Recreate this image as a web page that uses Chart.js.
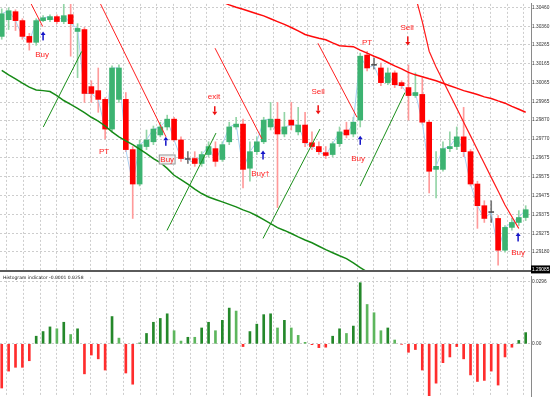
<!DOCTYPE html>
<html>
<head>
<meta charset="utf-8">
<script src="https://cdn.jsdelivr.net/npm/chart.js@4.4.0/dist/chart.umd.min.js"></script>
<style>
  html, body { margin: 0; padding: 0; background: #fff; }
  #wrap { position: relative; width: 550px; height: 400px; overflow: hidden; }
  #top { position: absolute; left: 0; top: 0; width: 550px; height: 274px; }
  #bot { position: absolute; left: 0; top: 273px; width: 550px; height: 127px; }
</style>
</head>
<body>
<div id="wrap">
  <div id="top"><canvas id="priceChart"></canvas></div>
  <div id="bot"><canvas id="histChart"></canvas></div>
</div>
<script>
// price panel, one entry per bar
const openP = [1.30310,1.30398,1.30440,1.30393,1.30310,1.30279,1.30393,1.30398,1.30414,1.30388,
  1.30424,1.30336,1.30346,1.30046,1.30025,1.29979,1.29823,1.29979,1.29979,1.29715,
  1.29534,1.29731,1.29756,1.29792,1.29834,1.29875,1.29766,1.29668,1.29668,1.29642,
  1.29689,1.29720,1.29663,1.29756,1.29834,1.29849,1.29617,1.29704,1.29756,1.29834,
  1.29875,1.29797,1.29870,1.29808,1.29844,1.29751,1.29731,1.29699,1.29689,1.29746,
  1.29818,1.29797,1.29870,1.30212,1.30160,1.30144,1.30067,1.30118,1.30067,1.30041,
  1.29999,1.30005,1.29859,1.29611,1.29611,1.29720,1.29731,1.29782,1.29704,1.29534,
  1.29420,1.29384,1.29353,1.29186,1.29306,1.29332,1.29358];
const closeP = [1.30429,1.30445,1.30393,1.30310,1.30279,1.30393,1.30408,1.30414,1.30388,1.30419,
  1.30377,1.30352,1.30010,1.30010,1.29979,1.29823,1.30144,1.30144,1.29715,1.29534,
  1.29741,1.29766,1.29823,1.29834,1.29875,1.29766,1.29668,1.29663,1.29642,1.29689,
  1.29731,1.29653,1.29741,1.29834,1.29849,1.29611,1.29704,1.29756,1.29870,1.29875,
  1.29797,1.29834,1.29844,1.29844,1.29751,1.29731,1.29704,1.29684,1.29746,1.29808,
  1.29792,1.29859,1.30206,1.30144,1.30158,1.30067,1.30118,1.30056,1.30051,1.29999,
  1.30015,1.29859,1.29601,1.29627,1.29720,1.29731,1.29782,1.29704,1.29534,1.29420,
  1.29353,1.29384,1.29186,1.29306,1.29332,1.29358,1.29399];
const highP = [1.30455,1.30460,1.30450,1.30403,1.30326,1.30403,1.30419,1.30424,1.30424,1.30490,
  1.30490,1.30377,1.30357,1.30077,1.30144,1.29989,1.30155,1.30160,1.30015,1.29731,
  1.29766,1.29818,1.29839,1.29859,1.29896,1.29885,1.29782,1.29704,1.29704,1.29704,
  1.29756,1.29756,1.29756,1.29859,1.29885,1.29875,1.29756,1.29782,1.29885,1.29963,
  1.29963,1.29911,1.29963,1.29937,1.29911,1.29808,1.29756,1.29731,1.29756,1.29834,
  1.29859,1.29885,1.30222,1.30232,1.30196,1.30170,1.30144,1.30129,1.30077,1.30160,
  1.30118,1.30093,1.29870,1.29704,1.29756,1.29808,1.29834,1.29937,1.29715,1.29549,
  1.29446,1.29446,1.29368,1.29316,1.29353,1.29394,1.29420];
const lowP = [1.30295,1.30346,1.30341,1.30295,1.30238,1.30263,1.30388,1.30388,1.30377,1.30377,
  1.30206,1.30093,1.29963,1.29963,1.29911,1.29771,1.29808,1.29963,1.29704,1.29353,
  1.29524,1.29715,1.29741,1.29782,1.29818,1.29756,1.29653,1.29642,1.29627,1.29627,
  1.29678,1.29627,1.29653,1.29741,1.29823,1.29513,1.29549,1.29689,1.29746,1.29818,
  1.29410,1.29782,1.29818,1.29792,1.29731,1.29715,1.29689,1.29668,1.29678,1.29731,
  1.29777,1.29782,1.29834,1.30129,1.30139,1.30051,1.30056,1.30041,1.30036,1.29870,
  1.29989,1.29849,1.29487,1.29461,1.29601,1.29704,1.29715,1.29678,1.29524,1.29301,
  1.29332,1.29332,1.29108,1.29176,1.29291,1.29316,1.29342];

// moving averages (upper red starts at bar 32, lower green ends at bar 53)
const maUpperStart = 32;
const maUpper = [1.30491,1.30476,1.30463,1.30453,1.30441,1.30429,1.30418,1.30403,1.30388,1.30373,
  1.30357,1.30339,1.30320,1.30310,1.30300,1.30292,1.30276,1.30261,1.30258,1.30256,
  1.30238,1.30222,1.30206,1.30191,1.30173,1.30155,1.30139,1.30121,1.30108,1.30098,
  1.30087,1.30077,1.30064,1.30051,1.30038,1.30025,1.30015,1.30005,1.29992,1.29984,
  1.29971,1.29959,1.29942,1.29927,1.29911];
const maLower = [1.30131,1.30108,1.30087,1.30064,1.30043,1.30028,1.30025,1.30020,1.29999,1.29973,
  1.29953,1.29932,1.29909,1.29885,1.29865,1.29839,1.29808,1.29782,1.29761,1.29741,
  1.29717,1.29694,1.29668,1.29647,1.29616,1.29580,1.29557,1.29533,1.29507,1.29484,
  1.29466,1.29453,1.29440,1.29427,1.29414,1.29398,1.29385,1.29367,1.29347,1.29326,
  1.29305,1.29290,1.29274,1.29256,1.29240,1.29225,1.29207,1.29189,1.29173,1.29157,
  1.29142,1.29119,1.29095,1.29072];
const bandStart = 60;
const bandLine = [1.30522,1.30388,1.30232,1.30149,1.30077,1.30005,1.29932,1.29859,1.29787,1.29714,
  1.29642,1.29569,1.29497,1.29424,1.29362,1.29300];

// trend lines: [bar1, price1, bar2, price2]
const redTrends = [[3.9,1.30507,5.95,1.30362],[13.97,1.30507,23.83,1.29782],[30.94,1.30248,37.75,1.29771],[45.87,1.30274,51.53,1.29885]];
const greenTrends = [[6.03,1.29834,11.6,1.30231],[23.97,1.29290,31.08,1.29802],[37.9,1.29248,46.16,1.29823],[51.97,1.29523,58.49,1.30015]];

// signals
const buyArrowBar = [6.0, 23.8, 37.9, 52.0, 74.9];
const buyArrowPrice = [1.30310, 1.29756, 1.29684, 1.29761, 1.29253];
const sellArrowBar = [30.9, 45.9, 58.9];
const sellArrowPrice = [1.29922, 1.29927, 1.30289];
const labelText = ['Buy', 'PT', 'Buy', 'exit', 'Buy\u2020', 'Sell', 'PT', 'Sell', 'Buy', 'Buy'];
const labelBar = [5.85, 14.85, 24.0, 30.8, 37.5, 45.9, 53.0, 58.8, 51.7, 74.9];
const labelPrice = [1.30212, 1.29704, 1.29663, 1.29994, 1.29590, 1.30020, 1.30274, 1.30357, 1.29668, 1.29170];

const priceTicks = [1.30460,1.30360,1.30265,1.30165,1.30065,1.29965,1.29870,1.29770,1.29675,1.29575,1.29475,1.29375,1.29275,1.29180];
const lastPriceTag = 1.29085;

// histogram panel
const histVals = [-0.0209,-0.0129,-0.0111,-0.0111,-0.0080,0.0036,0.0058,0.0080,0.0071,0.0102,
  0.0044,0.0071,-0.0142,-0.0053,-0.0071,-0.0124,0.0129,0.0027,-0.0138,-0.0191,
  0.0004,0.0049,0.0102,0.0120,0.0142,0.0062,0.0013,0.0031,0.0031,0.0075,
  0.0102,0.0062,0.0111,0.0169,0.0155,-0.0013,0.0058,0.0093,0.0138,0.0142,
  0.0075,0.0111,0.0075,0.0040,0.0007,-0.0004,-0.0018,-0.0016,0.0036,0.0071,
  0.0049,0.0084,0.0289,0.0186,0.0147,0.0062,0.0075,0.0018,-0.0002,-0.0040,
  -0.0027,-0.0124,-0.0255,-0.0186,-0.0089,-0.0062,-0.0013,-0.0071,-0.0147,-0.0178,
  -0.0173,-0.0129,-0.0195,-0.0062,-0.0016,0.0016,0.0053];
const histTicks = [0, 0.0296];
const histTitle = 'Histogram indicator -0.0001 0.0258';

const xMin = -0.25, xMax = 76.77;
const gridBars = [];
for (let g = 1.93; g < xMax; g += 2.42) gridBars.push(g);

const gridColor = '#cdcdcd';
const axisFont = { size: 4.8, family: 'Liberation Sans' };

const candleColor = openP.map((o, i) => Math.abs(closeP[i] - o) < 0.00006 ? '#555555' : (closeP[i] > o ? '#3cb371' : '#ff0000'));
const wickColor = openP.map((o, i) => Math.abs(closeP[i] - o) < 0.00006 ? '#777777' : (closeP[i] > o ? '#93d4a6' : '#ff9a9a'));

function lineSet(points, color, width, order) {
    return { type: 'line', data: points, borderColor: color, borderWidth: width, pointRadius: 0, order: order, fill: false, tension: 0 };
}

function drawArrow(ctx, px, py, up, color) {
    const d = up ? -1 : 1;
    ctx.fillStyle = color;
    ctx.beginPath();
    ctx.moveTo(px, py + 5 * d);
    ctx.lineTo(px - 2.5, py + 1.5 * d);
    ctx.lineTo(px + 2.5, py + 1.5 * d);
    ctx.closePath();
    ctx.fill();
    ctx.fillRect(px - 0.75, Math.min(py + 1.5 * d, py - 4 * d), 1.5, 5.5);
}

const overlayPlugin = {
    id: 'overlay',
    afterDatasetsDraw(chart) {
        const { ctx, chartArea } = chart;
        const x = chart.scales.x, y = chart.scales.y;
        ctx.save();
        buyArrowBar.forEach((b, k) => drawArrow(ctx, x.getPixelForValue(b), y.getPixelForValue(buyArrowPrice[k]), true, '#1515c8'));
        sellArrowBar.forEach((b, k) => drawArrow(ctx, x.getPixelForValue(b), y.getPixelForValue(sellArrowPrice[k]), false, '#ee1111'));
        ctx.font = '8px "Liberation Sans"';
        ctx.textAlign = 'center';
        ctx.textBaseline = 'middle';
        labelText.forEach((t, k) => {
            const px = x.getPixelForValue(labelBar[k]);
            const py = y.getPixelForValue(labelPrice[k]);
            if (k === 2) {
                const w = ctx.measureText(t).width + 3;
                ctx.fillStyle = '#efefef';
                ctx.fillRect(px - w / 2, py - 5, w, 10);
                ctx.strokeStyle = '#9a9a9a';
                ctx.lineWidth = 1;
                ctx.strokeRect(px - w / 2 + 0.5, py - 4.5, w - 1, 9);
            }
            ctx.fillStyle = '#ff2222';
            ctx.fillText(t, px, py);
        });
        // panel separator and current price tag
        ctx.fillStyle = '#5a5a5a';
        ctx.fillRect(0, chartArea.bottom, chart.width, 2);
        const ty = y.getPixelForValue(lastPriceTag);
        ctx.fillStyle = '#000';
        ctx.fillRect(chartArea.right, ty - 4, chart.width - chartArea.right, 8);
        ctx.fillStyle = '#fff';
        ctx.font = '4.8px "Liberation Sans"';
        ctx.textAlign = 'left';
        ctx.fillText(lastPriceTag.toFixed(5), chartArea.right + 1, ty);
        ctx.restore();
    }
};

const histPlugin = {
    id: 'histTitle',
    afterDraw(chart) {
        const ctx = chart.ctx;
        ctx.save();
        ctx.font = '4.5px "DejaVu Sans"';
        ctx.fillStyle = '#222';
        ctx.textBaseline = 'middle';
        ctx.fillText(histTitle, 3, 5);
        ctx.restore();
    }
};

const xAxis = {
    type: 'linear', min: xMin, max: xMax, offset: false,
    ticks: { display: false },
    grid: { color: gridColor, drawTicks: false },
    border: { display: false, dash: [2, 2] },
    afterBuildTicks: s => { s.ticks = gridBars.map(v => ({ value: v })); },
    afterFit: s => { s.height = 0; }
};

const datasets = [
    { type: 'bar', data: openP.map((o, i) => ({ x: i, y: [lowP[i], highP[i]] })), backgroundColor: wickColor, barThickness: 1, grouped: false, order: 6 },
    lineSet(closeP.map((c, i) => ({ x: i, y: c })), '#a8d0f2', 1, 5),
    { type: 'bar', data: openP.map((o, i) => ({ x: i, y: [o, closeP[i]] })), backgroundColor: candleColor, barThickness: 5, grouped: false, minBarLength: 1, order: 4 },
    lineSet(maLower.map((v, i) => ({ x: i, y: v })), '#168a16', 1.5, 2),
    lineSet(maUpper.map((v, i) => ({ x: maUpperStart + i, y: v })), '#ff0a0a', 1.5, 2),
    lineSet(bandLine.map((v, i) => ({ x: bandStart + i, y: v })), '#ff1a1a', 1.2, 2)
];
redTrends.forEach(t => datasets.push(lineSet([{ x: t[0], y: t[1] }, { x: t[2], y: t[3] }], '#ff2020', 1, 1)));
greenTrends.forEach(t => datasets.push(lineSet([{ x: t[0], y: t[1] }, { x: t[2], y: t[3] }], '#1b8f1b', 1, 1)));

new Chart(document.getElementById('priceChart'), {
    type: 'bar',
    data: { datasets: datasets },
    options: {
        responsive: true,
        maintainAspectRatio: false,
        animation: false,
        layout: { padding: { top: 0, left: 0, right: 0, bottom: 4 } },
        plugins: { legend: { display: false }, tooltip: { enabled: false } },
        scales: {
            x: xAxis,
            y: {
                position: 'right', min: 1.29082, max: 1.30481,
                ticks: { font: axisFont, color: '#333', padding: 1, callback: v => v.toFixed(5) },
                grid: { color: gridColor, drawTicks: false },
                border: { color: '#8a8a8a', dash: [2, 2] },
                afterBuildTicks: s => { s.ticks = priceTicks.map(v => ({ value: v })); },
                afterFit: s => { s.width = 19; }
            }
        }
    },
    plugins: [overlayPlugin]
});

new Chart(document.getElementById('histChart'), {
    type: 'bar',
    data: {
        datasets: [{
            data: histVals.map((v, i) => ({ x: i, y: v })),
            backgroundColor: histVals.map((v, i) => v < 0 ? '#ff2d2d' : (i > 0 && v > histVals[i - 1] ? '#24882a' : '#5db65d')),
            barThickness: 2
        }]
    },
    options: {
        responsive: true,
        maintainAspectRatio: false,
        animation: false,
        layout: { padding: 0 },
        plugins: { legend: { display: false }, tooltip: { enabled: false } },
        scales: {
            x: Object.assign({}, xAxis),
            y: {
                position: 'right', min: -0.02473, max: 0.03166,
                ticks: { font: axisFont, color: '#333', padding: 1, callback: v => v === 0 ? '0.00' : v.toFixed(4) },
                grid: { color: gridColor, drawTicks: false },
                border: { color: '#8a8a8a', dash: [2, 2] },
                afterBuildTicks: s => { s.ticks = histTicks.map(v => ({ value: v })); },
                afterFit: s => { s.width = 19; }
            }
        }
    },
    plugins: [histPlugin]
});
</script>
</body>
</html>
